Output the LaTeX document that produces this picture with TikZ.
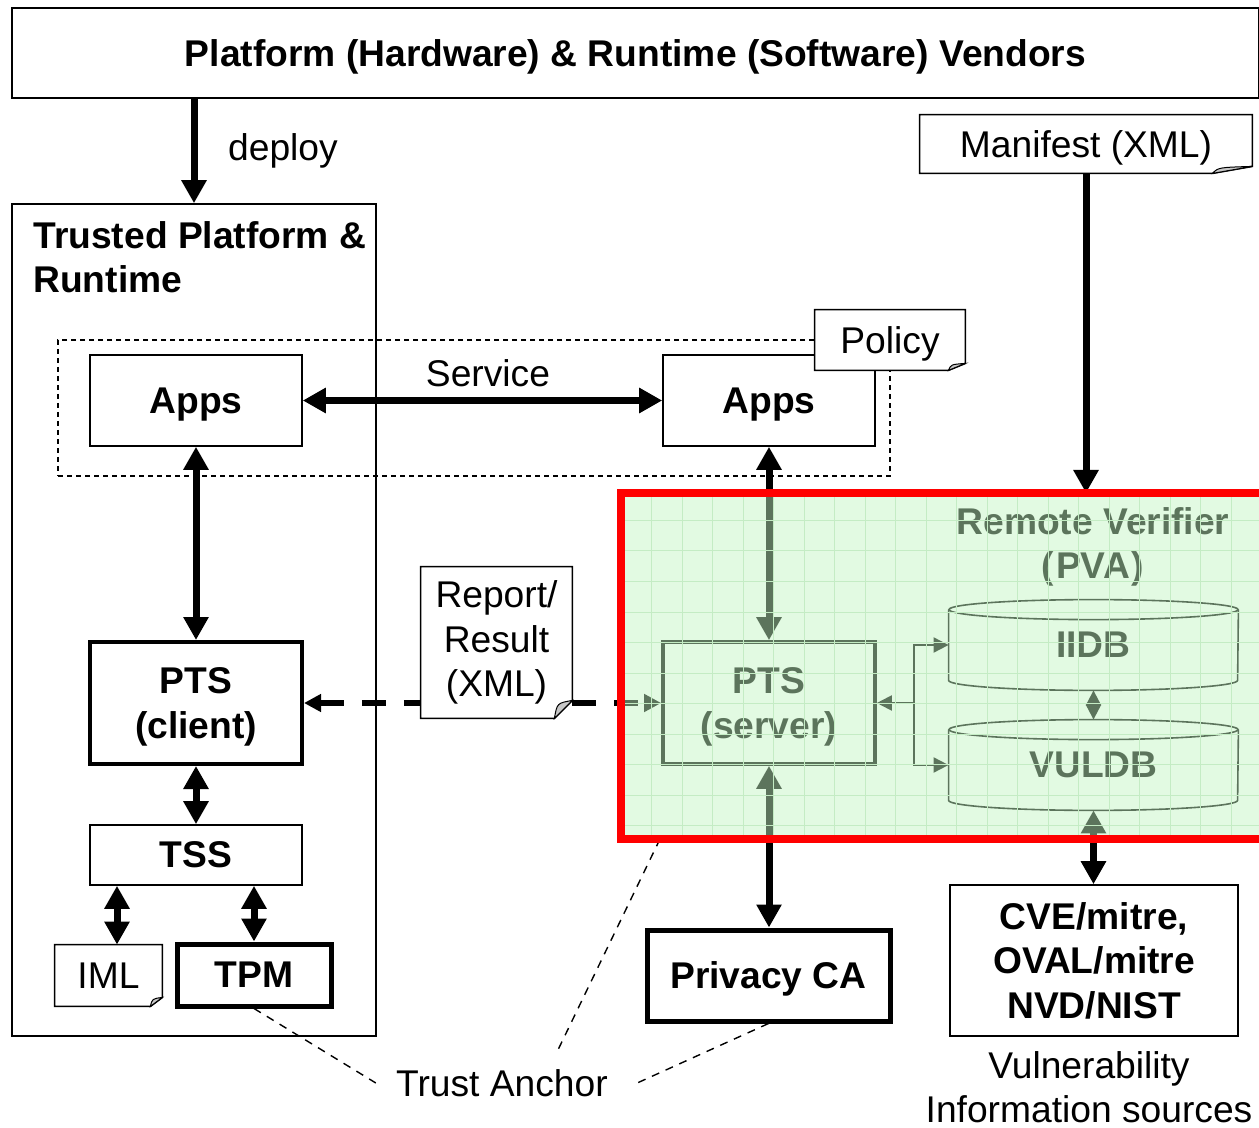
\documentclass[tikz,border=0pt]{standalone}
\usepackage{fontspec}
\setmainfont{Liberation Sans}
\usetikzlibrary{arrows.meta,calc}

\definecolor{rvgreen}{RGB}{194,244,194}
\definecolor{rvgrid}{RGB}{196,236,196}

\tikzset{
  txt/.style={font=\fontsize{18.6}{22.2}\selectfont, align=center, inner sep=0pt},
  btxt/.style={font=\fontsize{18.6}{22.2}\selectfont\bfseries, align=center, inner sep=0pt, text depth=0pt},
  box/.style={btxt, draw, line width=0.8pt},
  flat/.style={text depth=0pt},
  sz/.style 2 args={minimum width=#1pt, minimum height=#2pt},
  fh/.tip={Triangle[width=12pt,length=11.5pt]},
  dh/.tip={Triangle[width=8.5pt,length=8.5pt]},
  th/.tip={Triangle[width=7.5pt,length=7.5pt]},
  fat/.style={line width=3.5pt},
  dashfat/.style={line width=3pt, dash pattern=on 12pt off 9pt, dh-dh},
  thinarrow/.style={line width=1pt},
  taline/.style={line width=0.7pt, dash pattern=on 4pt off 3.5pt},
}

% dog-eared note outline drawn round an empty geometry node
\newcommand\drawnote[3]{%
  \filldraw[fill=white, draw=black, line width=0.8pt]
    (#1.north west) -- (#1.north east) -- ($(#1.south east)+(0,#3)$)
    -- ($(#1.south east)+(-#2,0)$) -- (#1.south west) -- cycle;
  \filldraw[fill=black!22, draw=black, line width=0.5pt]
    ($(#1.south east)+(-#2,0)$) .. controls ($(#1.south east)+(-0.85*#2,0.85*#3)$)
    .. ($(#1.south east)+(0,#3)$) -- cycle;
}
% database cylinder round a text node
\newcommand\drawcyl[1]{%
  \draw[line width=0.8pt] ($(#1.north west)+(0,-10)$) -- ($(#1.south west)+(0,10)$)
    arc[start angle=180,end angle=360,x radius=144.5,y radius=10]
    -- ($(#1.north east)+(0,-10)$);
  \draw[line width=0.8pt] ($(#1.north)+(0,-10)$) ellipse[x radius=144.5,y radius=10];
}

\begin{document}
\begin{tikzpicture}[x=0.5pt,y=0.5pt]
\useasboundingbox (0,0) rectangle (1259,-1128);

% vendors and trusted platform
\node[box, sz={623.5}{45}] (vend) at (635.5,-53) {Platform (Hardware) \& Runtime (Software) Vendors};
\node[draw, line width=0.8pt, sz={182}{416}] (tp) at (194,-620) {};
\node[btxt, align=left, anchor=west, text depth=] (tplab) at (33,-257.5) {Trusted Platform \&\\Runtime};
\node[draw, line width=0.6pt, dash pattern=on 2.5pt off 2pt, sz={416}{68}] (grp) at (474,-408) {};

\node[box, sz={106}{45.5}] (appsL) at (196,-400.5) {Apps};
\node[box, sz={106}{45.5}] (appsR) at (769,-400.5) {Apps};
\node[box, line width=2pt, sz={106}{61}] (ptsc) at (196,-703) {PTS\\(client)};
\node[box, sz={106}{30}] (tss) at (196,-855) {TSS};
\node[box, line width=2.5pt, sz={77}{31}] (tpm) at (254,-975) {TPM};
\node[sz={53.5}{30.5}] (iml) at (108.5,-975.5) {};

% remote verifier contents
\node[sz={324.5}{173}, outer sep=0pt] (rv) at (945.5,-666) {};
\node[btxt] (rvlab) at (1093,-543) {Remote Verifier\\(\kern1pt PVA\kern1pt)};
\node[box, line width=1.8pt, sz={106}{61}] (ptss) at (769,-703) {PTS\\(server)};
\node[btxt, sz={144.5}{45}] (iidb) at (1093.5,-645) {IIDB};
\node[btxt, sz={144.5}{45}] (vuldb) at (1093.5,-765) {VULDB};
\drawcyl{iidb}
\drawcyl{vuldb}

\node[box, line width=2.5pt, sz={121.5}{45.5}] (pca) at (768.5,-975.5) {Privacy CA};
\node[box, sz={144}{75.5}] (cve) at (1094,-960.5) {CVE/mitre,\\OVAL/mitre\\NVD/NIST};
\node[txt] (vuln) at (1089,-1087) {Vulnerability\\Information sources};
\node[txt, inner xsep=10pt, inner ysep=4pt] (ta) at (502,-1083) {Trust Anchor};
\node[txt, flat] (deploy) at (283,-147) {deploy};
\node[txt] (svc) at (488,-373) {Service};

% note geometry
\node[sz={75.5}{75.5}] (report) at (496.5,-642.5) {};
\node[sz={166}{29}] (man) at (1086,-144) {};
\node[sz={75}{30}] (pol) at (890,-340) {};

% connectors
\draw[fat,-fh] (vend.south -| tp.north) -- (tp.north);
\draw[fat,fh-fh] (appsL.east) -- (appsR.west);
\draw[fat,fh-fh] (appsL.south) -- (ptsc.north);
\draw[fat,fh-fh] (appsR.south) -- (ptss.north);
\draw[fat,fh-fh] (ptsc.south) -- (tss.north);
\coordinate (imlx) at (117,0);
\draw[fat,fh-fh] (tss.south -| imlx) -- (iml.north -| imlx);
\draw[fat,fh-fh] (tss.south -| tpm.north) -- (tpm.north);
\draw[fat,fh-fh] (ptss.south) -- (ptss.south |- pca.north);
\draw[fat,-fh] (man.south) -- (man.south |- rv.north);
\draw[fat,fh-fh] (vuldb.south) -- (vuldb.south |- cve.north);
\draw[dashfat] (ptsc.east) -- (ptss.west);

\coordinate (fork) at ($(ptss.east)+(37,0)$);
\draw[thinarrow,th-] (ptss.east) -- (fork);
\draw[thinarrow,-th] (fork) |- (iidb.west);
\draw[thinarrow,-th] (fork) |- (vuldb.west);
\draw[thinarrow,th-th] (iidb.south) -- (vuldb.north);

% notes
\drawnote{iml}{12}{9}
\node[txt] (iml-t) at (iml.center) {IML};
\drawnote{report}{18}{18}
\node[txt] (report-t) at (report.center) {Report/\\Result\\(XML)};
\drawnote{pol}{17}{7}
\node[txt, flat] (pol-t) at (pol.center) {Policy};
\drawnote{man}{40}{7}
\node[txt, flat] (man-t) at (man.center) {Manifest (XML)};

% trust anchor links
\draw[taline] (tpm.south) -- (ta.west);
\draw[taline] ($(rv.south west)+(39,0)$) -- ($(ta.north)+(55,9)$);
\draw[taline] (pca.south) -- ($(ta.east)+(9,0)$);

% remote verifier tint, grid and frame
\fill[rvgreen, opacity=0.48] (rv.south west) rectangle (rv.north east);
\begin{scope}
  \clip (rv.south west) rectangle (rv.north east);
  \draw[rvgrid, line width=0.5pt, step=15.25pt, shift={(621,-490)}] (-40,40) grid (700,-400);
\end{scope}
\draw[red, line width=4pt] (rv.south west) rectangle (rv.north east);
\end{tikzpicture}
\end{document}
